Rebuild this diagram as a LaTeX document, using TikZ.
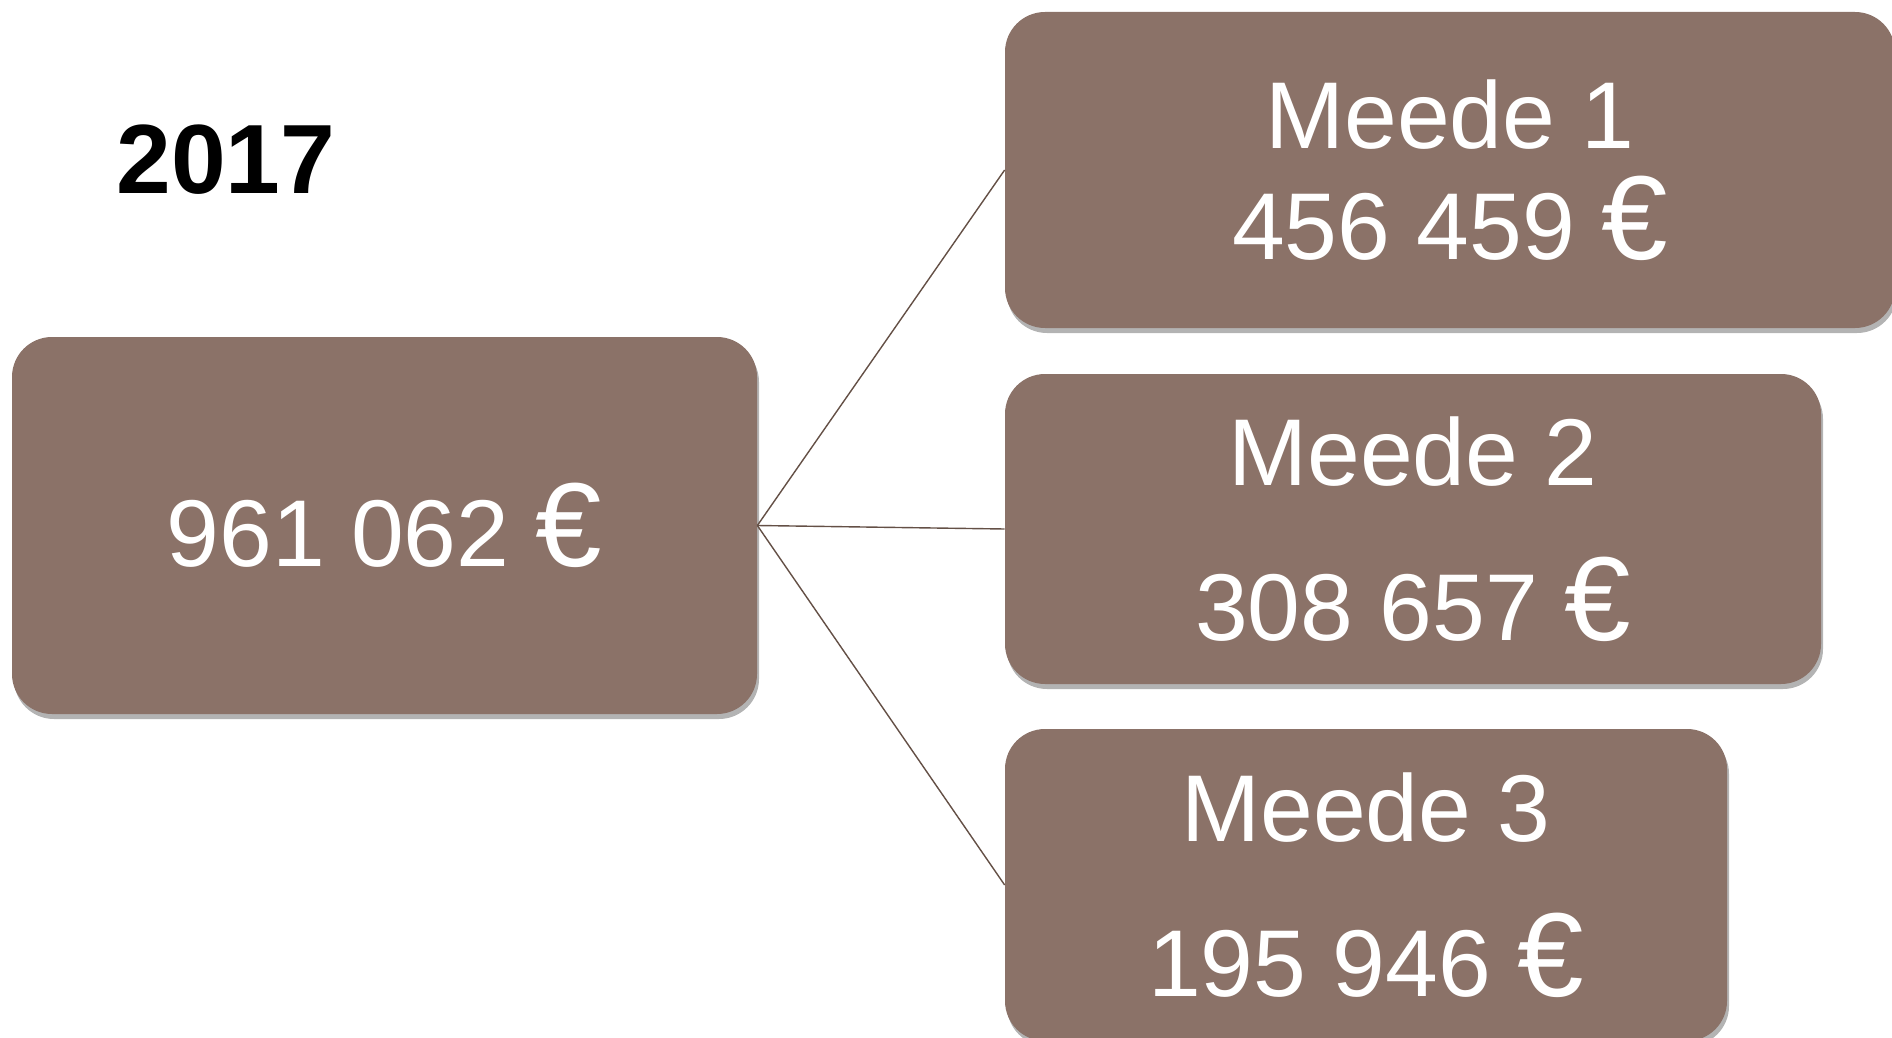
\documentclass[tikz,border=0pt]{standalone}
\usepackage{fontspec}
\setmainfont{Liberation Sans}
\usetikzlibrary{positioning, shadows}

\definecolor{boxBrown}{RGB}{139,114,104}
\definecolor{lineBrown}{RGB}{100,80,70}
\newcommand{\bigEuro}{{\fontsize{68}{63}\selectfont €}}

\begin{document}
\begin{tikzpicture}[
    amount/.style={rounded corners=0.8cm, fill=boxBrown, text=white, align=center,
        inner sep=0pt, font=\fontsize{54}{63}\selectfont,
        drop shadow={opacity=0.6, shadow xshift=0.04cm, shadow yshift=-0.1cm}},
    split/.style={draw=lineBrown, line width=0.8pt}]
    \clip (0, 0) rectangle (37.84, -20.76);

    \node[font=\fontsize{56}{60}\selectfont\bfseries] (year) at (4.52, -3.2) {2017};

    \node[amount, minimum width=14.9cm, minimum height=7.54cm] (total) at (7.69, -10.51) {961 062 \bigEuro};

    \node[amount, minimum width=17.8cm, minimum height=6.32cm] (meedeOne) at (29.0, -3.4) {Meede 1\\456 459 \bigEuro};
    \node[amount, minimum width=16.32cm, minimum height=6.2cm] (meedeTwo) at (28.26, -10.58) {Meede 2\\[25pt]308 657 \bigEuro};
    \node[amount, minimum width=14.44cm, minimum height=6.24cm] (meedeThree) at (27.32, -17.7) {Meede 3\\[25pt]195 946 \bigEuro};

    \draw[split] (total.east) -- (meedeOne.west);
    \draw[split] (total.east) -- (meedeTwo.west);
    \draw[split] (total.east) -- (meedeThree.west);
\end{tikzpicture}
\end{document}
